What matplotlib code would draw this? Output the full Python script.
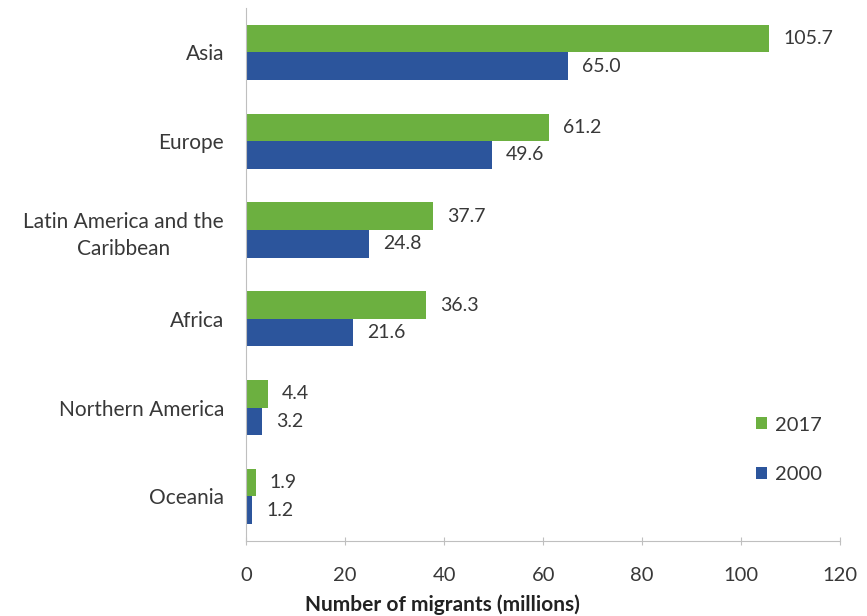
import matplotlib.pyplot as plt
import numpy as np

# data
regions = ["Asia", "Europe", "Latin America and the\nCaribbean", "Africa",
           "Northern America", "Oceania"]
migrants_2017 = [105.7, 61.2, 37.7, 36.3, 4.4, 1.9]
migrants_2000 = [65.0, 49.6, 24.8, 21.6, 3.2, 1.2]

green = "#6cb040"
blue = "#2c559c"
text_col = "#383838"

plt.rcParams['font.family'] = ['Lato', 'DejaVu Sans']

fig = plt.figure(figsize=(8.67, 6.16), dpi=100)
ax = fig.add_axes([0.284, 0.122, 0.685, 0.865])

y = np.arange(len(regions))
h = 0.31

b17 = ax.barh(y - h / 2, migrants_2017, height=h, color=green, label="2017")
b00 = ax.barh(y + h / 2, migrants_2000, height=h, color=blue, label="2000")

# value labels
for bars, vals in [(b17, migrants_2017), (b00, migrants_2000)]:
    for bar, v in zip(bars, vals):
        ax.annotate(f"{v:.1f}", (v, bar.get_y() + bar.get_height() / 2),
                    xytext=(10, 0), textcoords="offset points",
                    va="center", ha="left", fontsize=14, color=text_col)

ax.set_ylim(len(regions) - 0.5, -0.5)
ax.set_xlim(0, 120)
ax.set_xticks(np.arange(0, 121, 20))
ax.set_yticks(y)
ax.set_yticklabels(regions, fontsize=15, color=text_col, ha="right",
                   multialignment="center", linespacing=1.45)
ax.tick_params(axis="y", length=0, pad=16)
ax.tick_params(axis="x", labelsize=14.5, labelcolor=text_col, color="#bfbfbf",
               direction="inout", length=6, pad=16)

for s in ["top", "right"]:
    ax.spines[s].set_visible(False)
ax.spines["left"].set_color("#bfbfbf")
ax.spines["bottom"].set_color("#bfbfbf")

# axis title sits left of the axes centre in the original
fig.text(0.51, 0.018, "Number of migrants (millions)", fontsize=15,
         fontweight="bold", color="#222222", ha="center", va="center")

leg = ax.legend(loc="lower right", bbox_to_anchor=(1.0, 0.075), frameon=False,
                fontsize=14.5, handlelength=0.55, handleheight=0.55,
                labelspacing=1.6, handletextpad=0.4)
for t in leg.get_texts():
    t.set_color(text_col)

fig.savefig("out.png", dpi=100)
